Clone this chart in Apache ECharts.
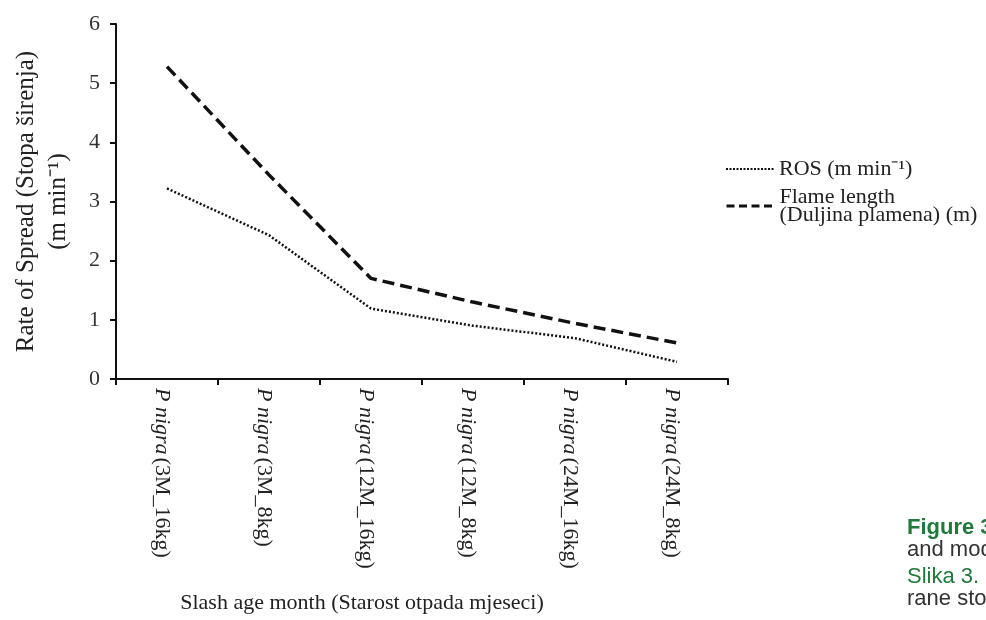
<!DOCTYPE html>
<html>
<head>
<meta charset="utf-8">
<script src="https://cdn.jsdelivr.net/npm/echarts@6/dist/echarts.min.js"></script>
<style>
html,body{margin:0;padding:0;background:#fff;}
#c{width:986px;height:620px;}
</style>
</head>
<body>
<div id="c"></div>
<script>
const species = 'P nigra';
const treatments = ['(3M_16kg)', '(3M_8kg)', '(12M_16kg)', '(12M_8kg)', '(24M_16kg)', '(24M_8kg)'];
const categories = treatments.map(t => species + ' ' + t);
const rosValues = [3.22, 2.43, 1.19, 0.90, 0.69, 0.29];
const flameValues = [5.28, 3.45, 1.70, 1.30, 0.94, 0.61];
const yTicks = [0, 1, 2, 3, 4, 5, 6];
const rosName = 'ROS (m min⁻¹)';
const flameName = 'Flame length\n(Duljina plamena) (m)';
const xTitle = 'Slash age month (Starost otpada mjeseci)';
const yTitle = 'Rate of Spread (Stopa širenja)\n(m min⁻¹)';

const serif = '"Liberation Serif", "Times New Roman", serif';
const narrow = '"Liberation Sans Narrow", "Arial Narrow", "Liberation Sans", sans-serif';
const green = '#1f7a3c';

const legendItemStyle = {color: 'transparent', borderColor: 'transparent', borderWidth: 0, opacity: 0};

const chart = echarts.init(document.getElementById('c'), null, {renderer: 'canvas'});
chart.setOption({
  backgroundColor: '#ffffff',
  animation: false,
  textStyle: {fontFamily: serif},
  grid: {left: 116, right: 258, top: 24, bottom: 241, containLabel: false},
  legend: [
    {
      data: [rosName], left: 720, top: 153, orient: 'vertical',
      itemWidth: 48, itemHeight: 12, selectedMode: false,
      itemStyle: legendItemStyle,
      lineStyle: {type: [2, 1.5], width: 2},
      textStyle: {fontFamily: serif, fontSize: 22, color: '#222', lineHeight: 22}
    },
    {
      data: [flameName], left: 720, top: 174, orient: 'vertical',
      itemWidth: 48, itemHeight: 12, selectedMode: false,
      itemStyle: legendItemStyle,
      lineStyle: {type: [8, 4.5], width: 3},
      textStyle: {fontFamily: serif, fontSize: 22, color: '#222', lineHeight: 18, padding: [18, 0, 0, 0]}
    }
  ],
  xAxis: {
    type: 'category',
    data: categories,
    boundaryGap: true,
    name: xTitle,
    nameLocation: 'middle',
    nameGap: 213,
    nameTextStyle: {fontFamily: serif, fontSize: 22, color: '#222', padding: [0, 120, 0, 0]},
    axisLine: {lineStyle: {color: '#111', width: 2}},
    axisTick: {show: true, length: 6, lineStyle: {color: '#111', width: 2}, alignWithLabel: false},
    axisLabel: {
      rotate: -90,
      margin: 9,
      interval: 0,
      padding: [10, 0, 0, 0],
      formatter: (v, i) => '{i|' + species + '} {n|' + treatments[i] + '}',
      rich: {
        i: {fontFamily: serif, fontStyle: 'italic', fontSize: 22, color: '#222'},
        n: {fontFamily: serif, fontSize: 22, color: '#222'}
      }
    },
    splitLine: {show: false}
  },
  yAxis: {
    type: 'value',
    min: yTicks[0],
    max: yTicks[yTicks.length - 1],
    interval: 1,
    name: yTitle,
    nameLocation: 'middle',
    nameRotate: 90,
    nameGap: 42,
    nameTextStyle: {fontFamily: serif, fontSize: 25, color: '#222', lineHeight: 32},
    axisLine: {show: true, lineStyle: {color: '#111', width: 2}},
    axisTick: {show: true, length: 6, lineStyle: {color: '#111', width: 2}},
    axisLabel: {fontFamily: serif, fontSize: 22, color: '#333', margin: 16},
    splitLine: {show: false}
  },
  series: [
    {
      name: rosName,
      type: 'line',
      data: rosValues,
      symbol: 'none',
      lineStyle: {color: '#111', width: 2.5, type: [2, 2]},
      itemStyle: {color: '#111'}
    },
    {
      name: flameName,
      type: 'line',
      data: flameValues,
      symbol: 'none',
      lineStyle: {color: '#111', width: 3.5, type: [12, 6]},
      itemStyle: {color: '#111'}
    }
  ],
  graphic: [
    {type: 'text', left: 907, top: 517, style: {text: 'Figure 3.', font: 'bold 22px ' + narrow, fill: green}},
    {type: 'text', left: 907, top: 539, style: {text: 'and modelled', font: '22px ' + narrow, fill: '#333'}},
    {type: 'text', left: 907, top: 566, style: {text: 'Slika 3. Odnos', font: '22px ' + narrow, fill: green}},
    {type: 'text', left: 907, top: 588, style: {text: 'rane stope', font: '22px ' + narrow, fill: '#333'}}
  ]
});
</script>
</body>
</html>
